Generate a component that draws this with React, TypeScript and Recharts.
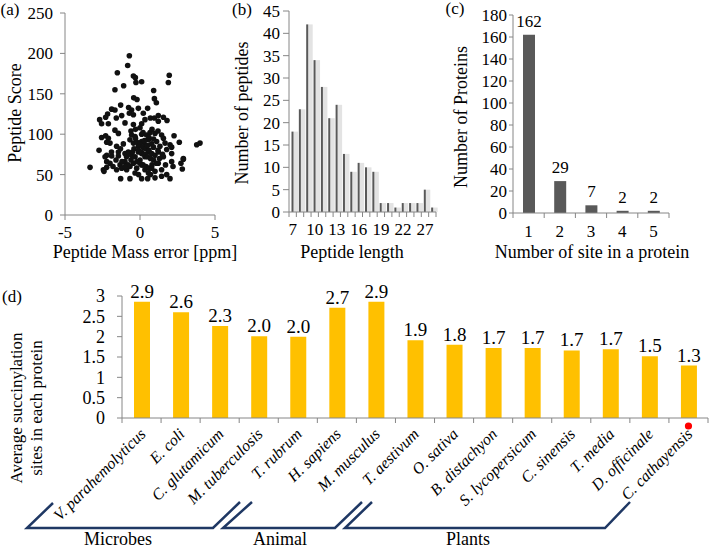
import React from 'react';
import { ScatterChart, Scatter, BarChart, Bar, XAxis, YAxis, LabelList } from 'recharts';

const FONT = '"Liberation Serif", "Times New Roman", Times, "DejaVu Serif", serif';
const AXIS = '#868686';
const INK = '#000';

// (a) peptide mass error [ppm] vs peptide score
const massErrorScore: [number, number][] = [
  [-0.71, 197], [-0.82, 185], [-1.51, 176], [-0.44, 172], [-0.31, 170], [-0.27, 164], [0.11, 165],
  [1.95, 173], [1.89, 164], [-1.67, 155], [-1.09, 160], [0.91, 154], [-0.42, 145], [-0.2, 143],
  [0.96, 144], [1.09, 139], [-1.29, 136], [-0.76, 133], [-0.56, 130], [-0.11, 132], [0.51, 132],
  [-1.89, 131], [-1.67, 130], [-2.16, 125], [-2.29, 121], [-2.69, 118], [-1.58, 120], [-1.22, 123],
  [-0.71, 126], [-0.44, 124], [0.22, 126], [0.69, 120], [0.96, 120], [1.22, 123], [1.56, 121],
  [1.8, 117], [-2.56, 113], [-2.11, 113], [-1.0, 114], [-0.44, 112], [0.11, 113], [0.33, 118],
  [1.22, 116], [-1.67, 105], [-1.44, 101], [-0.56, 99], [-0.33, 97], [0.11, 100], [0.44, 99],
  [0.67, 102], [1.0, 101], [1.44, 99], [2.27, 98], [-2.56, 96], [-2.29, 98], [-2.11, 95],
  [-2.0, 89], [-2.22, 90], [-1.56, 85], [-1.11, 88], [-0.67, 93], [-0.44, 89], [-0.11, 85],
  [0.11, 91], [0.33, 87], [0.56, 93], [0.78, 88], [1.11, 91], [1.33, 85], [1.56, 95], [1.67, 89],
  [2.0, 87], [2.11, 84], [2.62, 90], [3.78, 87], [4.0, 89], [-2.73, 80], [-2.22, 74], [-1.89, 73],
  [-1.44, 78], [-1.44, 73], [-1.0, 76], [-0.78, 78], [-0.56, 74], [-0.33, 72], [-0.11, 78],
  [0.11, 76], [0.33, 72], [0.56, 78], [0.78, 76], [1.0, 74], [1.22, 78], [1.56, 72], [1.78, 81],
  [2.11, 76], [2.89, 70], [-3.33, 59], [-2.44, 56], [-2.22, 59], [-2.22, 66], [-2.0, 64],
  [-2.33, 72], [-1.56, 56], [-1.33, 62], [-1.22, 58], [-1.0, 66], [-0.89, 56], [-0.67, 60],
  [-0.44, 64], [-0.33, 52], [-0.22, 58], [0.0, 68], [0.11, 62], [0.33, 56], [0.56, 52], [0.78, 58],
  [1.0, 54], [1.22, 64], [1.44, 56], [1.78, 50], [2.0, 45], [1.44, 48], [-1.29, 45], [-0.67, 45],
  [0.11, 45], [0.51, 45], [1.0, 46], [2.11, 66], [2.73, 64], [2.89, 69], [2.82, 57],
  [-0.3, 95], [-0.2, 90], [0.0, 88], [0.2, 84], [0.4, 82], [0.6, 80], [-0.4, 82], [-0.1, 80],
  [0.1, 78], [0.3, 75], [0.5, 72], [0.7, 70], [0.9, 68], [-0.6, 68], [-0.2, 66], [0.0, 64],
  [0.2, 62], [0.4, 60], [0.6, 58], [0.8, 62], [1.1, 64], [1.3, 70], [1.5, 75], [1.2, 80], [0.9, 84],
  [0.5, 86], [-0.8, 62], [-1.0, 60], [-1.2, 66], [-0.9, 72], [-0.7, 76], [-0.5, 78], [0.3, 92],
  [0.6, 96], [0.9, 94], [-0.6, 104], [-0.3, 106], [0.0, 108], [0.2, 102], [0.8, 106], [1.2, 104],
  [-1.3, 82], [-1.6, 68], [-1.8, 60], [-2.4, 54], [-1.9, 78], [1.7, 62], [2.2, 60], [0.7, 50],
  [-0.1, 50],
];

// (b) peptide length distribution
const peptideLengths = ['7', '8', '9', '10', '11', '12', '13', '14', '15', '16', '17', '18', '19', '20', '21', '22', '24', '25', '27', '28'];
const peptideCounts = [18, 23, 42, 34, 28, 21, 24, 13, 9, 11, 10, 9, 2, 2, 1, 2, 2, 2, 5, 1];

// (c) sites per protein
const sitesPerProtein = ['1', '2', '3', '4', '5'];
const proteinCounts = [162, 29, 7, 2, 2];

// (d) average succinylation sites per protein by species
const species = [
  'V. parahemolyticus', 'E. coli', 'C. glutamicum', 'M. tuberculosis', 'T. rubrum', 'H. sapiens',
  'M. musculus', 'T. aestivum', 'O. sativa', 'B. distachyon', 'S. lycopersicum', 'C. sinensis',
  'T. media', 'D. officinale', 'C. cathayensis',
];
const avgSites = [2.86, 2.6, 2.26, 2.01, 2.0, 2.71, 2.86, 1.91, 1.8, 1.72, 1.72, 1.66, 1.69, 1.52, 1.29];
const avgSiteLabels = ['2.9', '2.6', '2.3', '2.0', '2.0', '2.7', '2.9', '1.9', '1.8', '1.7', '1.7', '1.7', '1.7', '1.5', '1.3'];
const groupNames = ['Microbes', 'Animal', 'Plants'];

const scatterData = massErrorScore.map(([x, y]) => ({ x, y }));
const lengthData = peptideLengths.map((len, i) => ({ len, count: peptideCounts[i] }));
const siteData = sitesPerProtein.map((n, i) => ({ n, count: proteinCounts[i] }));
const speciesData = species.map((name, i) => ({ name, value: avgSites[i], label: avgSiteLabels[i] }));

const tickText = { fill: INK, fontSize: 17, fontFamily: FONT };

function Caption({ x, y, size = 18, vertical = false, children }: any) {
  return (
    <div
      style={{
        position: 'absolute',
        left: x,
        top: y,
        transform: `translate(-50%, -50%)${vertical ? ' rotate(-90deg)' : ''}`,
        fontSize: size,
        fontFamily: FONT,
        color: INK,
        whiteSpace: 'nowrap',
        textAlign: 'center',
        lineHeight: '20px',
      }}
    >
      {children}
    </div>
  );
}

const Dot = (p: any) => <circle cx={p.cx} cy={p.cy} r={2.8} fill="#111" />;

// category axis with tick marks between categories (Excel style)
function makeBoundaryTick(bandWidth: number, count: number, labelEvery: number, dyText: number) {
  return (p: any) => {
    const { x, y, payload, index } = p;
    return (
      <g>
        <line x1={x - bandWidth / 2} x2={x - bandWidth / 2} y1={y} y2={y + 5} stroke={AXIS} />
        {index === count - 1 && (
          <line x1={x + bandWidth / 2} x2={x + bandWidth / 2} y1={y} y2={y + 5} stroke={AXIS} />
        )}
        {index % labelEvery === 0 && (
          <text x={x} y={y + dyText} textAnchor="middle" fill={INK} fontSize={17} fontFamily={FONT}>
            {payload.value}
          </text>
        )}
      </g>
    );
  };
}

const ShadedBar = (p: any) => {
  const { x, y, width, height } = p;
  const cx = x + width / 2;
  return (
    <g>
      <rect x={cx + 1} y={y} width={4.5} height={height} fill="#e3e3e3" />
      <rect x={cx - 1} y={y} width={2} height={height} fill="#595959" />
    </g>
  );
};

const SpeciesTick = (p: any) => {
  const { x, y, payload, index } = p;
  const bw = 586 / species.length;
  const tx = x + 5;
  const ty = y + 17;
  return (
    <g>
      <line x1={x - bw / 2} x2={x - bw / 2} y1={y} y2={y + 5} stroke={AXIS} />
      {index === species.length - 1 && (
        <>
          <line x1={x + bw / 2} x2={x + bw / 2} y1={y} y2={y + 5} stroke={AXIS} />
          <circle cx={x} cy={y + 8} r={3.6} fill="#ff0000" />
        </>
      )}
      <text
        x={tx}
        y={ty}
        transform={`rotate(-45, ${tx}, ${ty})`}
        textAnchor="end"
        fill={INK}
        fontSize={16}
        fontStyle="italic"
        fontFamily={FONT}
      >
        {payload.value}
      </text>
    </g>
  );
};

export default function App() {
  return (
    <div style={{ position: 'absolute', left: 0, top: 0, width: 709, height: 550, background: '#fff', fontFamily: FONT }}>
      {/* (a) */}
      <div style={{ position: 'absolute', left: 0, top: 0 }}>
        <ScatterChart width={235} height={265} margin={{ top: 13, right: 20, bottom: 0, left: 0 }}>
          <XAxis
            type="number"
            dataKey="x"
            domain={[-5, 5]}
            ticks={[-5, 0, 5]}
            interval={0}
            height={50}
            stroke={AXIS}
            tick={tickText}
            tickSize={5}
            tickMargin={6}
          />
          <YAxis
            type="number"
            dataKey="y"
            domain={[0, 250]}
            ticks={[0, 50, 100, 150, 200, 250]}
            interval={0}
            width={65}
            stroke={AXIS}
            tick={tickText}
            tickSize={5}
            tickMargin={7}
          />
          <Scatter data={scatterData} shape={Dot} isAnimationActive={false} />
        </ScatterChart>
      </div>

      {/* (b) */}
      <div style={{ position: 'absolute', left: 230, top: 0 }}>
        <BarChart width={215} height={265} data={lengthData} margin={{ top: 11, right: 9, bottom: 0, left: 0 }} barSize={7}>
          <XAxis
            dataKey="len"
            interval={0}
            height={53}
            stroke={AXIS}
            tickLine={false}
            tickSize={0}
            tickMargin={0}
            tick={makeBoundaryTick(147 / peptideLengths.length, peptideLengths.length, 3, 23)}
          />
          <YAxis
            domain={[0, 45]}
            ticks={[0, 5, 10, 15, 20, 25, 30, 35, 40, 45]}
            interval={0}
            width={59}
            stroke={AXIS}
            tick={tickText}
            tickSize={6}
            tickMargin={3}
          />
          <Bar dataKey="count" shape={ShadedBar} isAnimationActive={false} />
        </BarChart>
      </div>

      {/* (c) */}
      <div style={{ position: 'absolute', left: 455, top: 0 }}>
        <BarChart width={254} height={265} data={siteData} margin={{ top: 15, right: 40, bottom: 0, left: 0 }} barSize={12}>
          <XAxis
            dataKey="n"
            interval={0}
            height={52}
            stroke={AXIS}
            tickLine={false}
            tickSize={0}
            tickMargin={0}
            tick={makeBoundaryTick(156 / sitesPerProtein.length, sitesPerProtein.length, 1, 24)}
          />
          <YAxis
            domain={[0, 180]}
            ticks={[0, 20, 40, 60, 80, 100, 120, 140, 160, 180]}
            interval={0}
            width={58}
            stroke={AXIS}
            tick={tickText}
            tickSize={4}
            tickMargin={2}
          />
          <Bar dataKey="count" fill="#595959" isAnimationActive={false}>
            <LabelList dataKey="count" position="top" offset={8} fill={INK} fontSize={17} fontFamily={FONT} />
          </Bar>
        </BarChart>
      </div>

      {/* (d) */}
      <div style={{ position: 'absolute', left: 0, top: 280 }}>
        <BarChart width={709} height={270} data={speciesData} margin={{ top: 16, right: 1, bottom: 0, left: 0 }} barSize={16}>
          <XAxis
            dataKey="name"
            interval={0}
            height={132}
            stroke={AXIS}
            tickLine={false}
            tickSize={0}
            tickMargin={0}
            tick={SpeciesTick}
          />
          <YAxis
            domain={[0, 3]}
            ticks={[0, 0.5, 1, 1.5, 2, 2.5, 3]}
            interval={0}
            width={122}
            stroke={AXIS}
            tick={{ ...tickText, fontSize: 18 }}
            tickSize={5}
            tickMargin={12}
          />
          <Bar dataKey="value" fill="#FFC000" isAnimationActive={false}>
            <LabelList dataKey="label" position="top" offset={4} fill={INK} fontSize={19} fontFamily={FONT} />
          </Bar>
        </BarChart>
      </div>

      {/* group brackets under (d) */}
      <svg width={709} height={550} style={{ position: 'absolute', left: 0, top: 0, pointerEvents: 'none' }}>
        <g fill="none" stroke="#1F3864" strokeWidth={2.5}>
          <polyline points="53,503 27,528 213,528 240,502" />
          <polyline points="252,502 223,528 335,528 362,502" />
          <polyline points="372,502 345,528 605,528 630,502" />
        </g>
        <g fill={INK} fontSize={18} fontFamily={FONT} textAnchor="middle">
          <text x={118} y={545}>{groupNames[0]}</text>
          <text x={280} y={545}>{groupNames[1]}</text>
          <text x={468} y={545}>{groupNames[2]}</text>
        </g>
      </svg>

      {/* panel letters and axis titles */}
      <Caption x={10} y={10} size={17}>(a)</Caption>
      <Caption x={242} y={10} size={17}>(b)</Caption>
      <Caption x={455} y={9} size={17}>(c)</Caption>
      <Caption x={12} y={297} size={17}>(d)</Caption>

      <Caption x={15} y={113} vertical>Peptide Score</Caption>
      <Caption x={145} y={252}>Peptide Mass error [ppm]</Caption>
      <Caption x={242} y={113} vertical>Number of peptides</Caption>
      <Caption x={352} y={252}>Peptide length</Caption>
      <Caption x={461} y={117} vertical>Number of Proteins</Caption>
      <Caption x={592} y={252}>Number of site in a protein</Caption>
      <Caption x={27} y={408} size={17} vertical>
        Average succinylation
        <br />
        sites in each protein
      </Caption>
    </div>
  );
}
